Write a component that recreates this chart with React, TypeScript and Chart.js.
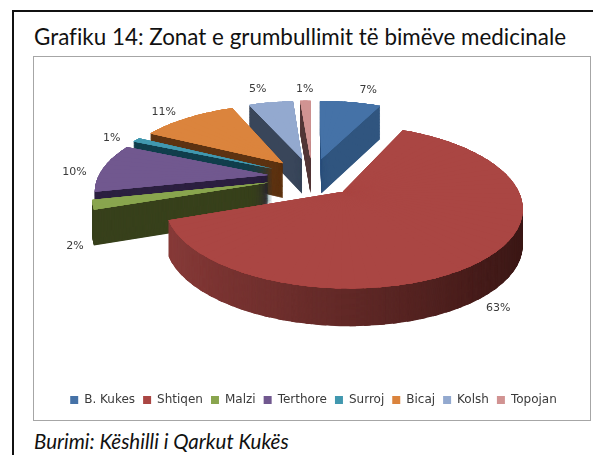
import React, { useEffect, useRef } from "react";
import { Chart, registerables } from "chart.js";

Chart.register(...registerables);

const categories = ["B. Kukes", "Shtiqen", "Malzi", "Terthore", "Surroj", "Bicaj", "Kolsh", "Topojan"];
const shares = [7, 62.5, 2, 10.2, 1, 11, 5.1, 1.2];
const topColors = ["#4572a7", "#aa4643", "#89a54e", "#71588f", "#4198af", "#db843d", "#93a9cf", "#d19392"];
const wallColors = ["#30557f", "#8a3c3a", "#38411c", "#2c2040", "#123f4d", "#5e3413", "#39465a", "#55393a"];
const paintOrder = [7, 6, 5, 4, 3, 2, 0, 1];
const labelNudgeX = [14, -12, 11, -4, -5, -11, -9, 0];
const labelNudgeY = [-5, -1, 2, 5, 2, 0, -6, -4];

const view = { cx: 312 - 34, cy: 177 - 57, R: 170, k: 0.435, p: 0.175, D: 35, explode: 0.26, layers: 72, topPasses: 4 };

function project(X: number, Y: number, z: number) {
  const w = 1 / (1 - view.p * Y);
  const zw = 1 + (w - 1) * 0.3;
  return { x: view.cx + X * view.R * w, y: view.cy + Y * view.R * view.k * w + z * view.D * zw };
}

function mix(a: number[], b: number[], t: number) {
  const c = a.map((v, i) => Math.round(v + (b[i] - v) * t));
  return `rgb(${c[0]},${c[1]},${c[2]})`;
}

function drawWedge(ctx: CanvasRenderingContext2D, el: any, ex: number, ey: number, a0: number, a1: number, z: number, color: string) {
  const A = project(ex, ey, z);
  const B = project(ex + Math.cos(a0), ey + Math.sin(a0), z);
  const C = project(ex + Math.cos(a1), ey + Math.sin(a1), z);
  const r = el.outerRadius;
  const ux = r * Math.cos(a0), uy = r * Math.sin(a0), vx = r * Math.cos(a1), vy = r * Math.sin(a1);
  const det = ux * vy - vx * uy;
  const bx = B.x - A.x, by = B.y - A.y, cx = C.x - A.x, cy = C.y - A.y;
  const m11 = (bx * vy - cx * uy) / det, m12 = (cx * ux - bx * vx) / det;
  const m21 = (by * vy - cy * uy) / det, m22 = (cy * ux - by * vx) / det;
  const saved = { o: el.options, s: el.startAngle, e: el.endAngle, c: el.circumference };
  el.options = {
    offset: 0, spacing: 0, borderWidth: 0, borderColor: "transparent", backgroundColor: color,
    borderAlign: "center", borderRadius: 0, circular: true, borderJoinStyle: "round", borderDash: [], borderDashOffset: 0,
  };
  el.startAngle = a0;
  el.endAngle = a1;
  el.circumference = a1 - a0;
  ctx.save();
  ctx.transform(m11, m21, m12, m22, A.x, A.y);
  ctx.translate(-el.x, -el.y);
  el.draw(ctx);
  ctx.restore();
  el.options = saved.o;
  el.startAngle = saved.s;
  el.endAngle = saved.e;
  el.circumference = saved.c;
}

const pie3d = {
  id: "pie3d",
  beforeDatasetsDraw(chart: any) {
    const ctx = chart.ctx as CanvasRenderingContext2D;
    const meta = chart.getDatasetMeta(0);
    for (const i of paintOrder) {
      const el = meta.data[i];
      const start = el.startAngle, end = el.endAngle;
      const mid = (start + end) / 2;
      const ex = view.explode * Math.cos(mid), ey = view.explode * Math.sin(mid);
      const n = Math.max(1, Math.ceil((end - start) / (Math.PI / 45)));
      const step = (end - start) / n;
      const overlap = 0.015;
      for (let l = view.layers; l >= 1 - view.topPasses; l--) {
        const z = Math.max(0, l) / view.layers;
        for (let j = 0; j < n; j++) {
          const a0 = start + j * step;
          const lo = Math.max(start, a0 - overlap), hi = Math.min(end, a0 + step + overlap);
          let color = l <= 0 ? topColors[i] : wallColors[i];
          if (i === 1 && l > 0) {
            const t = Math.max(0, Math.min(1, (Math.cos(a0 + step / 2) + 1) / 1.9));
            color = mix([138, 60, 58], [60, 24, 22], t);
          }
          drawWedge(ctx, el, ex, ey, lo, hi, z, color);
        }
      }
    }
    ctx.save();
    ctx.font = '11px "DejaVu Sans"';
    ctx.fillStyle = "#3a3a3a";
    ctx.textAlign = "center";
    ctx.textBaseline = "middle";
    meta.data.forEach((el: any, i: number) => {
      const mid = (el.startAngle + el.endAngle) / 2;
      const q = 0.275 + 1.14;
      const p = project(q * Math.cos(mid), q * Math.sin(mid), Math.sin(mid) > 0 ? 1 : 0);
      ctx.fillText(`${Math.round(shares[i])}%`, p.x + labelNudgeX[i], p.y + labelNudgeY[i]);
    });
    ctx.restore();
    return false;
  },
};

const abs = (l: number, t: number, w: number, h: number): React.CSSProperties => ({
  position: "absolute", left: l, top: t, width: w, height: h, boxSizing: "border-box",
});

export default function App() {
  const ref = useRef<HTMLCanvasElement>(null);
  useEffect(() => {
    const chart = new Chart(ref.current!, {
      type: "pie",
      data: { labels: categories, datasets: [{ data: shares, backgroundColor: topColors, borderWidth: 0 }] },
      options: {
        responsive: false,
        animation: false,
        layout: { padding: { bottom: 4, left: 3 } },
        plugins: {
          tooltip: { enabled: false },
          legend: {
            position: "bottom",
            labels: {
              boxWidth: 8, boxHeight: 8, padding: 8, color: "#3a3a3a",
              font: { family: '"DejaVu Sans"', size: 12 },
            },
          },
        },
      } as any,
      plugins: [pie3d as any],
    });
    return () => chart.destroy();
  }, []);
  return (
    <div style={{ position: "fixed", inset: 0, background: "#fff", overflow: "hidden" }}>
      <div style={{ ...abs(12, 10, 600, 460), borderLeft: "2px solid #111", borderTop: "2px solid #111" }} />
      <div style={{ position: "absolute", left: 34, top: 23, font: "22.4px Lato", fontVariantLigatures: "none", color: "#111", whiteSpace: "nowrap" }}>
        Grafiku 14: Zonat e grumbullimit të bimëve medicinale
      </div>
      <div style={{ ...abs(33, 56, 558, 365), border: "1px solid #a6a6a6" }}>
        <canvas ref={ref} width={556} height={363} style={{ display: "block", position: "absolute", left: 0, top: 0 }} />
      </div>
      <div style={{ position: "absolute", left: 34, top: 429, font: "italic 20.5px Lato", color: "#111", whiteSpace: "nowrap" }}>
        Burimi: Këshilli i Qarkut Kukës
      </div>
    </div>
  );
}
